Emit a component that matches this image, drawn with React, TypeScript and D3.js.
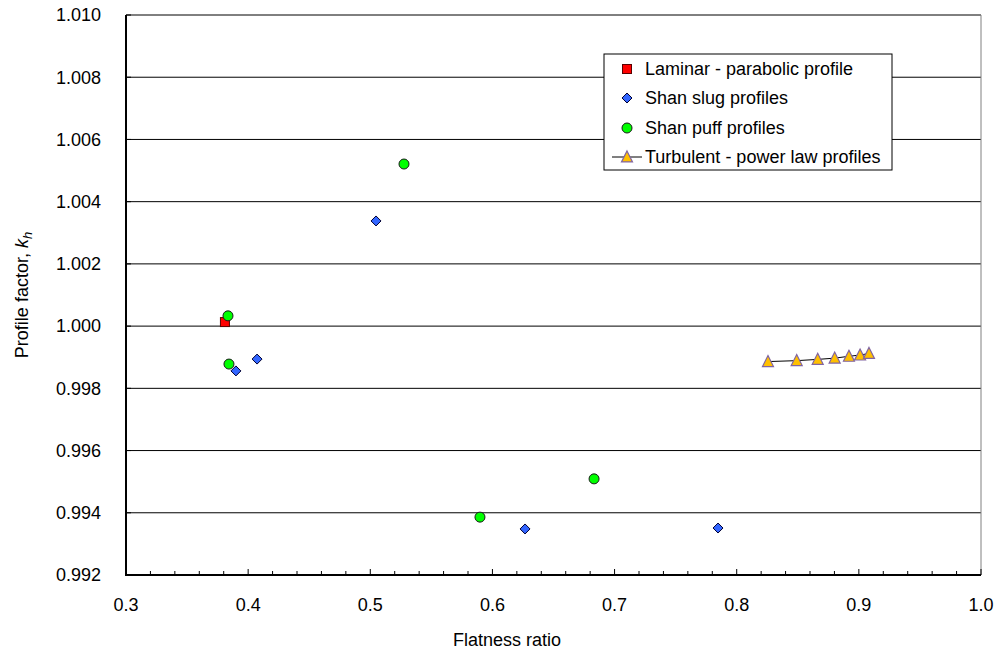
import React from "react";
import * as d3 from "d3";

// Flatness ratio vs. profile factor k_h for each family of velocity profiles
const laminarX = [0.381];
const laminarY = [1.00013];

const slugX = [0.390, 0.4073, 0.5047, 0.6267, 0.7847];
const slugY = [0.99856, 0.99894, 1.00338, 0.99348, 0.99351];

const puffX = [0.3835, 0.3843, 0.5276, 0.5898, 0.6832];
const puffY = [1.00033, 0.99878, 1.00521, 0.99386, 0.99509];

const turbX = [0.8256, 0.8491, 0.8663, 0.8802, 0.8919, 0.9010, 0.9083];
const turbY = [0.99886, 0.99889, 0.99893, 0.99897, 0.99903, 0.99907, 0.99912];

const xTicks = [0.3, 0.4, 0.5, 0.6, 0.7, 0.8, 0.9, 1.0];
const yTicks = [0.992, 0.994, 0.996, 0.998, 1.0, 1.002, 1.004, 1.006, 1.008, 1.01];

const legendLabels = [
  "Laminar - parabolic profile",
  "Shan slug profiles",
  "Shan puff profiles",
  "Turbulent - power law profiles",
];

const W = 994;
const H = 657;
const plot = { left: 126, right: 981, top: 15, bottom: 575 };
const font = "'Liberation Sans', Arial, sans-serif";
const fs = 18;

const zip = (xs: number[], ys: number[]) => xs.map((x, i) => [x, ys[i]] as [number, number]);

export default function App() {
  const x = d3.scaleLinear().domain([0.3, 1.0]).range([plot.left, plot.right]);
  const y = d3.scaleLinear().domain([0.992, 1.01]).range([plot.bottom, plot.top]);

  const minorX = d3.range(0, 36).map((i) => 0.3 + i * 0.02).filter((v) => v <= 1.0001);

  const diamond = (cx: number, cy: number, r: number) =>
    `M${cx},${cy - r}L${cx + r},${cy}L${cx},${cy + r}L${cx - r},${cy}Z`;
  const triangle = (cx: number, cy: number, s: number) =>
    `M${cx},${cy - s * 0.55}L${cx + s / 2},${cy + s * 0.45}L${cx - s / 2},${cy + s * 0.45}Z`;

  const line = d3
    .line<[number, number]>()
    .x((d) => x(d[0]))
    .y((d) => y(d[1]));

  const legend = { x: 604, y: 54, w: 288, h: 116 };
  const rowY = [69, 98, 128, 157];
  const mx = 627;

  const sq = (cx: number, cy: number, key?: string) => (
    <rect key={key} x={cx - 4.5} y={cy - 4.5} width={9} height={9} fill="#FF0000" stroke="#5a0000" strokeWidth={1} />
  );
  const circ = (cx: number, cy: number, key?: string) => (
    <circle key={key} cx={cx} cy={cy} r={5} fill="#00FF00" stroke="#1a1a1a" strokeWidth={1} />
  );
  const dia = (cx: number, cy: number, key?: string) => (
    <path key={key} d={diamond(cx, cy, 5)} fill="#3366FF" stroke="#000033" strokeWidth={1} />
  );
  const tri = (cx: number, cy: number, key?: string) => (
    <path key={key} d={triangle(cx, cy, 11)} fill="#FFC000" stroke="#8064A2" strokeWidth={1.2} />
  );

  return (
    <svg
      width={W}
      height={H}
      style={{ position: "absolute", left: 0, top: 0, background: "#fff" }}
      fontFamily={font}
    >
      {/* horizontal gridlines */}
      {yTicks.map((t) => (
        <line key={"g" + t} x1={plot.left} x2={plot.right} y1={y(t)} y2={y(t)} stroke="#000" strokeWidth={1} />
      ))}
      {/* plot frame */}
      <line x1={plot.right} x2={plot.right} y1={plot.top} y2={plot.bottom} stroke="#808080" strokeWidth={1} />
      <line x1={plot.left} x2={plot.left} y1={plot.top} y2={plot.bottom} stroke="#000" strokeWidth={2} />
      <line x1={plot.left - 1} x2={plot.right} y1={plot.bottom} y2={plot.bottom} stroke="#000" strokeWidth={2} />

      {/* y ticks */}
      {yTicks.map((t) => (
        <g key={"yt" + t}>
          <line x1={plot.left} x2={plot.left + 5} y1={y(t)} y2={y(t)} stroke="#000" strokeWidth={1} />
          <text x={101} y={y(t)} dy="0.35em" textAnchor="end" fontSize={fs} fill="#000">
            {d3.format(".3f")(t)}
          </text>
        </g>
      ))}
      {/* x ticks */}
      {minorX.map((t, i) => (
        <line
          key={"xm" + i}
          x1={x(t)}
          x2={x(t)}
          y1={plot.bottom}
          y2={plot.bottom - (i % 5 === 0 ? 6 : 4)}
          stroke="#000"
          strokeWidth={1}
        />
      ))}
      {xTicks.map((t) => (
        <text key={"xt" + t} x={x(t)} y={605} dy="0.35em" textAnchor="middle" fontSize={fs} fill="#000">
          {d3.format(".1f")(t)}
        </text>
      ))}

      {/* axis titles */}
      <text x={507} y={646} textAnchor="middle" fontSize={fs} fill="#000">
        Flatness ratio
      </text>
      <text transform="translate(28,295) rotate(-90)" textAnchor="middle" fontSize={fs} fill="#000">
        Profile factor, <tspan fontStyle="italic">k</tspan>
        <tspan fontStyle="italic" fontSize={13} dy={4}>h</tspan>
      </text>

      {/* series */}
      {zip(laminarX, laminarY).map((d, i) => sq(x(d[0]), y(d[1]), "l" + i))}
      {zip(slugX, slugY).map((d, i) => dia(x(d[0]), y(d[1]), "s" + i))}
      {zip(puffX, puffY).map((d, i) => circ(x(d[0]), y(d[1]), "p" + i))}
      <path d={line(zip(turbX, turbY)) || ""} fill="none" stroke="#000" strokeWidth={1} />
      {zip(turbX, turbY).map((d, i) => tri(x(d[0]), y(d[1]), "t" + i))}

      {/* legend */}
      <rect x={legend.x} y={legend.y} width={legend.w} height={legend.h} fill="#fff" stroke="#000" strokeWidth={1} />
      {sq(mx, rowY[0])}
      {dia(mx, rowY[1])}
      {circ(mx, rowY[2])}
      <line x1={612} x2={642} y1={rowY[3]} y2={rowY[3]} stroke="#000" strokeWidth={1} />
      {tri(mx, rowY[3])}
      {legendLabels.map((t, i) => (
        <text key={"lg" + i} x={645} y={rowY[i]} dy="0.35em" fontSize={fs} fill="#000">
          {t}
        </text>
      ))}
    </svg>
  );
}
